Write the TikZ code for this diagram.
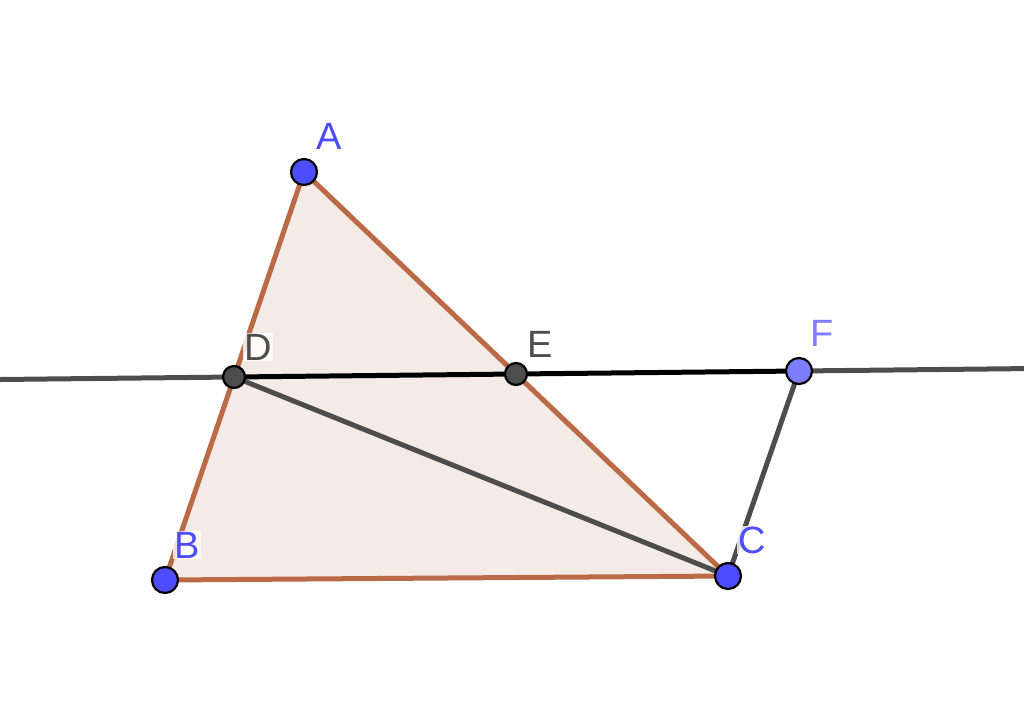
\documentclass[tikz,border=0pt]{standalone}
\usepackage{fontspec}
\setmainfont{Liberation Sans}
\usetikzlibrary{calc}
\definecolor{edgebrown}{RGB}{186,106,70}
\definecolor{fillpink}{RGB}{245,235,230}
\definecolor{ptblue}{RGB}{77,77,255}
\definecolor{ptlight}{RGB}{125,125,255}
\definecolor{ptgray}{RGB}{77,77,77}
\definecolor{lngray}{RGB}{77,77,77}
\tikzset{
  pt/.style={circle, draw=black, line width=2.2pt, minimum size=26pt, inner sep=0pt},
  lbl/.style={font=\fontsize{38}{38}\selectfont, inner sep=1pt, fill=white, fill opacity=0.8, text opacity=1},
  tri/.style={draw=edgebrown, line width=5pt, line join=round},
  gline/.style={draw=lngray, line width=5pt},
  bline/.style={draw=black, line width=5pt}
}
\begin{document}
\begin{tikzpicture}[x=1pt,y=-1pt]
\useasboundingbox (0,0) rectangle (1024,726);
\coordinate (A) at (304,172);
\coordinate (B) at (165,580);
\coordinate (C) at (728,576);
\coordinate (D) at (234,377);
\coordinate (E) at (516,374);
\coordinate (F) at (799,371);
\coordinate (L) at (0,379.5);
\coordinate (R) at (1024,368.6);
\fill[fillpink] (A) -- (B) -- (C) -- cycle;
\draw[gline] (L) -- (D);
\draw[gline] (F) -- (R);
\draw[tri] (A) -- (B) -- (C) -- cycle;
\draw[bline] (D) -- (E) -- (F);
\draw[gline] (D) -- (C);
\draw[gline] (C) -- (F);
\node[lbl, text=ptblue] (lA) at (329,136) {A};
\node[lbl, text=ptblue] (lB) at (187,545) {B};
\node[lbl, text=ptblue] (lC) at (752,540) {C};
\node[lbl, text=ptgray] (lD) at (258,347) {D};
\node[lbl, text=ptgray] (lE) at (540,344) {E};
\node[lbl, text=ptlight] (lF) at (822,333) {F};
\node[pt, fill=ptblue] (pA) at (A) {};
\node[pt, fill=ptblue] (pB) at (B) {};
\node[pt, fill=ptblue] (pC) at (C) {};
\node[pt, fill=ptgray, minimum size=22pt] (pD) at (D) {};
\node[pt, fill=ptgray, minimum size=22pt] (pE) at (E) {};
\node[pt, fill=ptlight] (pF) at (F) {};
\end{tikzpicture}
\end{document}
